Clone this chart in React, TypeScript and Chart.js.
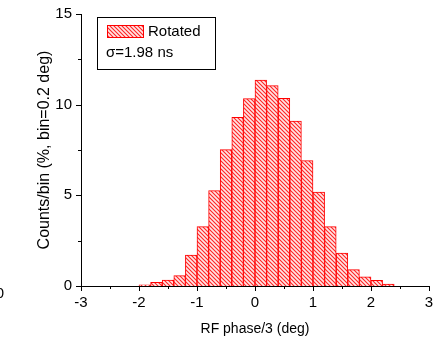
import React, { useEffect, useRef } from "react";
import { Chart, registerables } from "chart.js";

Chart.register(...registerables);

const binCenters = [-1.9, -1.7, -1.5, -1.3, -1.1, -0.9, -0.7, -0.5, -0.3, -0.1, 0.1, 0.3, 0.5, 0.7, 0.9, 1.1, 1.3, 1.5, 1.7, 1.9, 2.1, 2.3];
const counts = [0.07, 0.2, 0.33, 0.57, 1.71, 3.27, 5.26, 7.52, 9.3, 10.33, 11.36, 11.05, 10.35, 9.1, 6.91, 5.18, 3.27, 1.82, 0.9, 0.51, 0.31, 0.11];
const xTicks = [-3, -2, -1, 0, 1, 2, 3];
const yTicks = [0, 5, 10, 15];
const seriesLabel = "Rotated";
const sigmaLabel = "σ=1.98 ns";
const xTitle = "RF phase/3 (deg)";
const yTitle = "Counts/bin (%, bin=0.2 deg)";

const FONT = "'Liberation Sans', Arial, sans-serif";

function makePattern(): CanvasPattern | string {
  const c = document.createElement("canvas");
  const s = 4;
  c.width = s;
  c.height = s;
  const g = c.getContext("2d");
  if (!g) return "rgba(255,0,0,0.4)";
  g.fillStyle = "#ffe6e6";
  g.fillRect(0, 0, s, s);
  g.strokeStyle = "rgba(255,0,0,0.85)";
  g.lineWidth = 1.1;
  g.beginPath();
  g.moveTo(-1, -1);
  g.lineTo(s + 1, s + 1);
  g.moveTo(-1, s - 1);
  g.lineTo(1, s + 1);
  g.moveTo(s - 1, -1);
  g.lineTo(s + 1, 1);
  g.stroke();
  const p = g.createPattern(c, "repeat");
  return p || "rgba(255,0,0,0.4)";
}

export default function App() {
  const ref = useRef<HTMLCanvasElement>(null);
  useEffect(() => {
    document.body.style.margin = "0";
    const canvas = ref.current;
    if (!canvas) return;
    const pattern = makePattern();

    const extras = {
      id: "extras",
      afterDraw(chart: any) {
        const ctx = chart.ctx;
        const xs = chart.scales.x;
        const ys = chart.scales.y;
        const area = chart.chartArea;
        ctx.save();
        ctx.strokeStyle = "#000";
        ctx.lineWidth = 1;
        for (let v = -3; v <= 3.001; v += 0.5) {
          const px = Math.round(xs.getPixelForValue(v)) + 0.5;
          const major = Math.abs(v - Math.round(v)) < 1e-6;
          ctx.beginPath();
          ctx.moveTo(px, area.bottom);
          ctx.lineTo(px, area.bottom + (major ? 5 : 3));
          ctx.stroke();
        }
        for (let v = 0; v <= 15.001; v += 2.5) {
          const py = Math.round(ys.getPixelForValue(v)) + 0.5;
          const major = Math.abs(v / 5 - Math.round(v / 5)) < 1e-6;
          ctx.beginPath();
          ctx.moveTo(area.left, py);
          ctx.lineTo(area.left - (major ? 5 : 3), py);
          ctx.stroke();
        }
        ctx.strokeStyle = "#000";
        ctx.strokeRect(97.5, 17.5, 118, 52);
        ctx.fillStyle = pattern as any;
        ctx.fillRect(107, 25, 37, 13);
        ctx.strokeStyle = "#ff0000";
        ctx.strokeRect(107.5, 25.5, 36, 12);
        ctx.fillStyle = "#000";
        ctx.font = `15px ${FONT}`;
        ctx.textBaseline = "middle";
        ctx.textAlign = "left";
        ctx.fillText(seriesLabel, 148, 32);
        ctx.fillText(sigmaLabel, 106, 53);
        ctx.textAlign = "right";
        ctx.fillText("0", 4, 294);
        ctx.restore();
      },
    };

    const chart = new Chart(canvas, {
      type: "bar",
      data: {
        datasets: [
          {
            label: seriesLabel,
            data: binCenters.map((x, i) => ({ x, y: counts[i] })),
            backgroundColor: pattern as any,
            borderColor: "#ff0000",
            borderWidth: 1,
            barPercentage: 1,
            categoryPercentage: 1,
          },
        ],
      },
      options: {
        animation: false,
        responsive: false,
        maintainAspectRatio: false,
        layout: { padding: { top: 14, right: 19, left: 0, bottom: 0 } },
        plugins: { legend: { display: false }, tooltip: { enabled: false } },
        scales: {
          x: {
            type: "linear",
            offset: false,
            min: -3,
            max: 3,
            afterBuildTicks: (s: any) => {
              s.ticks = xTicks.map((v) => ({ value: v }));
            },
            afterFit: (s: any) => {
              s.height = 56;
              s.paddingLeft = 0;
              s.paddingRight = 0;
            },
            grid: { display: false, drawTicks: false, offset: false },
            border: { display: true, color: "#000", width: 1 },
            ticks: {
              color: "#000",
              font: { family: FONT, size: 15 },
              padding: 8,
              maxRotation: 0,
              autoSkip: false,
            },
            title: {
              display: true,
              text: xTitle,
              color: "#000",
              font: { family: FONT, size: 14 },
              padding: { top: 0, bottom: 4 },
            },
          },
          y: {
            type: "linear",
            min: 0,
            max: 15,
            afterBuildTicks: (s: any) => {
              s.ticks = yTicks.map((v) => ({ value: v }));
            },
            afterFit: (s: any) => {
              s.width = 81;
              s.paddingTop = 0;
              s.paddingBottom = 0;
            },
            grid: { display: false, drawTicks: false },
            border: { display: true, color: "#000", width: 1 },
            ticks: {
              color: "#000",
              font: { family: FONT, size: 15 },
              padding: 9,
            },
            title: {
              display: true,
              text: yTitle,
              color: "#000",
              font: { family: FONT, size: 16 },
              padding: { top: 35, bottom: 0 },
            },
          },
        },
      },
      plugins: [extras],
    });
    return () => chart.destroy();
  }, []);
  return (
    <div style={{ width: 448, height: 342 }}>
      <canvas ref={ref} width={448} height={342} style={{ display: "block" }} />
    </div>
  );
}
